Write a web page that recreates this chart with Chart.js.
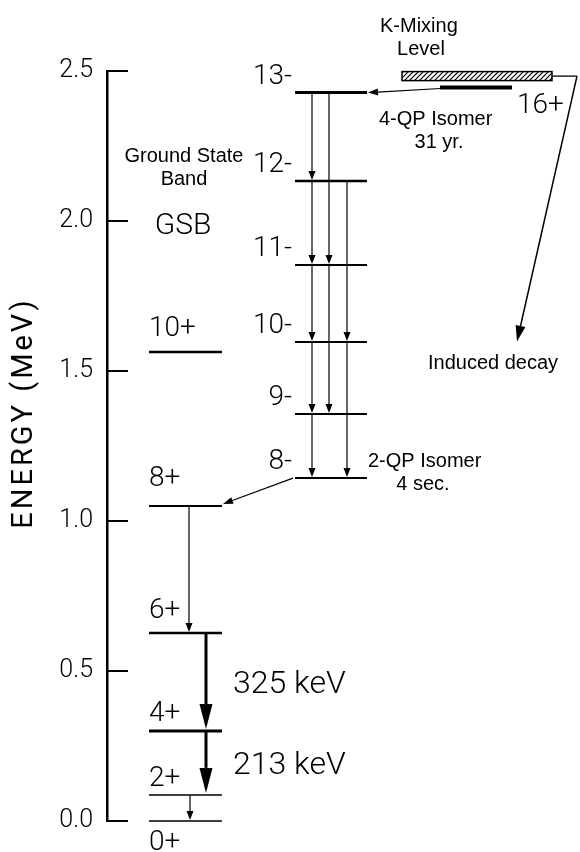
<!DOCTYPE html>
<html>
<head>
<meta charset="utf-8">
<script src="https://cdn.jsdelivr.net/npm/chart.js@4/dist/chart.umd.min.js"></script>
<style>
  body { margin: 0; background: #fff; }
  #wrap { width: 580px; height: 852px; }
</style>
</head>
<body>
<div id="wrap"><canvas id="levelScheme"></canvas></div>
<script>
// level energies (MeV)
const gsbSpins = ["0+", "2+", "4+", "6+", "8+", "10+"];
const gsbEnergy = [0.000, 0.087, 0.300, 0.627, 1.050, 1.563];
const bandSpins = ["8-", "9-", "10-", "11-", "12-", "13-"];
const bandEnergy = [1.143, 1.357, 1.597, 1.853, 2.133, 2.428];
const isomerSpin = "16+";
const isomerEnergy = 2.445;
const kMixingEnergy = [2.468, 2.498]; // bottom, top of the band
const inducedDecayEnergy = 1.598;

// transitions, [from, to] as level index
const gsbGammas = [[4, 3], [3, 2], [2, 1], [1, 0]];
const gsbGammaLabels = ["", "325 keV", "213 keV", ""];
const bandGammas = [[5, 4], [5, 3], [4, 3], [4, 2], [3, 2], [3, 1], [2, 1], [2, 0], [1, 0]];

const yTicks = [0, 0.5, 1.0, 1.5, 2.0, 2.5];

// layout: x in px from the energy axis
const gsbX = [42, 115];
const bandX = [188, 260];
const isoX = [333, 405];
const kmixX = [295, 445];
const gsbArrowX = [82, 99, 99, 83];
const gsbArrowHeavy = [false, true, true, false];
const bandArrowX = [205, 222, 205, 240, 205, 222, 205, 240, 205];
const gsbLabelLift = [-29, 9, 10, 15, 20, 16];
const gsbLineW = [1.5, 1.5, 3, 2.5, 2, 2.5];
const bandLineW = [2, 2, 2, 2, 2.5, 3];

const gothic = "Roboto";
const helv = "'Liberation Sans', Arial, sans-serif";

function levelSet(x, e, w) {
  return {
    data: [{ x: x[0], y: e }, { x: x[1], y: e }],
    showLine: true,
    borderColor: "#000",
    borderWidth: w,
    pointRadius: 0,
    clip: false,
  };
}

const datasets = [];
gsbEnergy.forEach((e, i) => datasets.push(levelSet(gsbX, e, gsbLineW[i])));
bandEnergy.forEach((e, i) => datasets.push(levelSet(bandX, e, bandLineW[i])));
datasets.push(levelSet(isoX, isomerEnergy, 4));

function arrow(ctx, x1, y1, x2, y2, lw, len, half) {
  const a = Math.atan2(y2 - y1, x2 - x1);
  const bx = x2 - len * Math.cos(a), by = y2 - len * Math.sin(a);
  ctx.lineWidth = lw;
  ctx.beginPath();
  ctx.moveTo(x1, y1);
  ctx.lineTo(bx, by);
  ctx.stroke();
  ctx.beginPath();
  ctx.moveTo(x2, y2);
  ctx.lineTo(bx + half * Math.sin(a), by - half * Math.cos(a));
  ctx.lineTo(bx - half * Math.sin(a), by + half * Math.cos(a));
  ctx.closePath();
  ctx.fill();
}

function hatch(ctx) {
  const c = document.createElement("canvas");
  c.width = 5; c.height = 5;
  const p = c.getContext("2d");
  p.fillStyle = "#fff";
  p.fillRect(0, 0, 5, 5);
  p.strokeStyle = "#000";
  p.lineWidth = 1.2;
  p.beginPath();
  p.moveTo(0, 5); p.lineTo(5, 0);
  p.moveTo(-1, 1); p.lineTo(1, -1);
  p.moveTo(4, 6); p.lineTo(6, 4);
  p.stroke();
  return ctx.createPattern(c, "repeat");
}

const schemePlugin = {
  id: "scheme",
  afterDraw(chart) {
    const ctx = chart.ctx;
    const xs = chart.scales.x, ys = chart.scales.y;
    const X = v => xs.getPixelForValue(v);
    const Y = v => ys.getPixelForValue(v);
    const left = chart.chartArea.left;
    ctx.save();
    ctx.strokeStyle = "#000";
    ctx.fillStyle = "#000";

    // inward ticks
    ctx.lineWidth = 2;
    yTicks.forEach(t => {
      ctx.beginPath();
      ctx.moveTo(left, Y(t));
      ctx.lineTo(left + 21, Y(t));
      ctx.stroke();
    });

    // axis title
    ctx.save();
    ctx.translate(25, Y(1.36));
    ctx.rotate(-Math.PI / 2);
    ctx.font = "400 29px " + gothic;
    ctx.letterSpacing = "3px";
    ctx.textAlign = "center";
    ctx.textBaseline = "middle";
    ctx.fillText("ENERGY (MeV)", 0, 0);
    ctx.restore();

    // GSB transitions
    gsbGammas.forEach((g, i) => {
      const x = X(gsbArrowX[i]);
      if (gsbArrowHeavy[i]) arrow(ctx, x, Y(gsbEnergy[g[0]]), x, Y(gsbEnergy[g[1]]) - 2, 3, 25, 6.5);
      else arrow(ctx, x, Y(gsbEnergy[g[0]]), x, Y(gsbEnergy[g[1]]) - 1, 1.2, 9, 3.5);
    });
    ctx.font = "300 32px " + gothic;
    ctx.textAlign = "left";
    ctx.textBaseline = "alphabetic";
    gsbGammas.forEach((g, i) => {
      if (!gsbGammaLabels[i]) return;
      const y = (Y(gsbEnergy[g[0]]) + Y(gsbEnergy[g[1]])) / 2 + 11;
      ctx.fillText(gsbGammaLabels[i], X(gsbX[1]) + 11, y);
    });

    // K band transitions
    bandGammas.forEach((g, i) => {
      const x = X(bandArrowX[i]);
      arrow(ctx, x, Y(bandEnergy[g[0]]), x, Y(bandEnergy[g[1]]) - 1, 1.2, 9, 3.5);
    });

    // 8- -> 8+, 16+ -> 13-
    arrow(ctx, X(bandX[0]) - 2, Y(bandEnergy[0]), X(gsbX[1]) + 1, Y(gsbEnergy[4]) - 2, 1.2, 10, 3.5);
    arrow(ctx, X(isoX[0]), Y(isomerEnergy) + 1, X(bandX[1]) + 1, Y(bandEnergy[5]), 1.2, 10, 3.5);

    // K-mixing level
    const kTop = Y(kMixingEnergy[1]), kBot = Y(kMixingEnergy[0]);
    const kMid = (kTop + kBot) / 2;
    ctx.fillStyle = hatch(ctx);
    ctx.fillRect(X(kmixX[0]), kTop, X(kmixX[1]) - X(kmixX[0]), kBot - kTop);
    ctx.fillStyle = "#000";
    ctx.lineWidth = 1.5;
    ctx.strokeRect(X(kmixX[0]), kTop, X(kmixX[1]) - X(kmixX[0]), kBot - kTop);
    ctx.lineWidth = 1.3;
    ctx.beginPath();
    ctx.moveTo(X(kmixX[1]), kMid);
    ctx.lineTo(X(470), kMid);
    ctx.stroke();
    arrow(ctx, X(470), kMid, X(410), Y(inducedDecayEnergy), 1.5, 16, 5);

    // level labels
    ctx.font = "300 28px " + gothic;
    ctx.textAlign = "left";
    gsbSpins.forEach((s, i) => ctx.fillText(s, X(gsbX[0]), Y(gsbEnergy[i]) - gsbLabelLift[i]));
    ctx.textAlign = "right";
    bandSpins.forEach((s, i) => ctx.fillText(s, X(bandX[0]) - 3, Y(bandEnergy[i]) - 9));
    ctx.textAlign = "left";
    ctx.fillText(isomerSpin, X(410), Y(isomerEnergy) + 25);
    ctx.textAlign = "center";
    ctx.font = "300 30px " + gothic;
    ctx.fillText("GSB", X(76), Y(2.0) + 13);

    // annotations
    ctx.font = "20px " + helv;
    ctx.fillText("Ground State", X(77), Y(2.0) - 59);
    ctx.fillText("Band", X(77), Y(2.0) - 36);
    ctx.textAlign = "left";
    ctx.fillText("K-Mixing", X(273), kTop - 40);
    ctx.textAlign = "center";
    ctx.fillText("Level", X(314), kTop - 17);
    ctx.textAlign = "left";
    ctx.fillText("4-QP Isomer", X(272), Y(isomerEnergy) + 37);
    ctx.textAlign = "center";
    ctx.fillText("31 yr.", X(332), Y(isomerEnergy) + 60);
    ctx.textAlign = "left";
    ctx.fillText("2-QP Isomer", X(261), Y(bandEnergy[0]) - 11);
    ctx.textAlign = "center";
    ctx.fillText("4 sec.", X(316), Y(bandEnergy[0]) + 12);
    ctx.textAlign = "left";
    ctx.fillText("Induced decay", X(321), Y(inducedDecayEnergy) + 27);
    ctx.restore();
  },
};

new Chart(document.getElementById("levelScheme"), {
  type: "scatter",
  data: { datasets: datasets },
  options: {
    responsive: true,
    maintainAspectRatio: false,
    animation: false,
    layout: { padding: { top: 71, bottom: 31, left: 0, right: 0 } },
    plugins: { legend: { display: false }, tooltip: { enabled: false } },
    scales: {
      x: { type: "linear", min: 0, max: 473, display: false },
      y: {
        min: 0,
        max: 2.5,
        afterFit: s => { s.width = 107; },
        afterBuildTicks: s => { s.ticks = yTicks.map(v => ({ value: v })); },
        ticks: {
          padding: 14,
          color: "#000",
          font: { family: gothic, size: 25, weight: 300 },
          callback: v => v.toFixed(1),
        },
        grid: { drawOnChartArea: false, drawTicks: false },
        border: { display: true, color: "#000", width: 2.5 },
      },
    },
  },
  plugins: [schemePlugin],
});
</script>
</body>
</html>
